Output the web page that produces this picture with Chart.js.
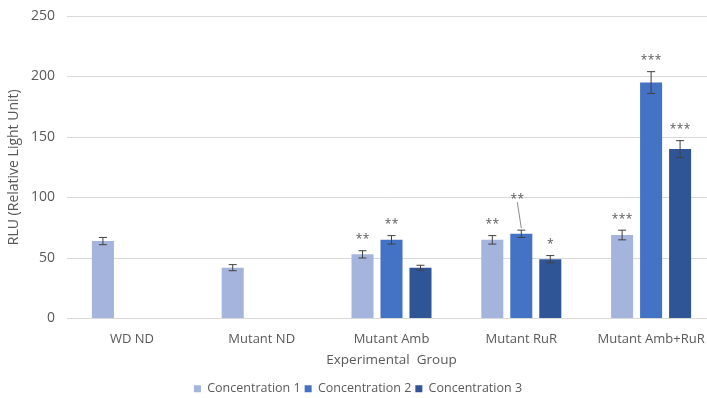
<!DOCTYPE html>
<html>
<head>
<meta charset="utf-8">
<script src="https://cdn.jsdelivr.net/npm/chart.js@4.4.1/dist/chart.umd.min.js"></script>
<style>
  html, body { margin: 0; padding: 0; background: #fff; overflow: hidden; }
  #wrap { width: 716px; height: 398px; position: relative; }
</style>
</head>
<body>
<div id="wrap"><canvas id="rlu"></canvas></div>
<script>
// RLU per experimental group, three concentrations
const groups = ['WD ND', 'Mutant ND', 'Mutant Amb', 'Mutant RuR', 'Mutant Amb+RuR'];
const conc1 = [64, 42, 53, 65, 69];
const conc2 = [null, null, 65, 70, 195];
const conc3 = [null, null, 42, 49, 140];

// standard error for each bar
const err1 = [3, 2.5, 3, 3.5, 4];
const err2 = [null, null, 3.5, 3, 9];
const err3 = [null, null, 2, 3, 7];

// significance marks
const sig1 = ['', '', '**', '**', '***'];
const sig2 = ['', '', '**', '**', '***'];
const sig3 = ['', '', '', '*', '***'];

const yTicks = [0, 50, 100, 150, 200, 250];

const kolorai = ['#a5b4dc', '#4472c4', '#2f5597'];
const tekstas = '#595959';
const FONT = "'Open Sans', 'Liberation Sans', sans-serif";

// error bars + stars drawn on top of the bars
const errorBars = {
  id: 'errorBars',
  afterDatasetsDraw(chart, args, opts) {
    const ctx = chart.ctx;
    const y = chart.scales.y;
    chart.data.datasets.forEach((ds, di) => {
      const meta = chart.getDatasetMeta(di);
      meta.data.forEach((bar, i) => {
        const v = ds.data[i];
        const e = ds.errors[i];
        if (v == null || e == null) return;
        const x = bar.x;
        const top = y.getPixelForValue(v + e);
        const bot = y.getPixelForValue(v - e);
        ctx.save();
        ctx.strokeStyle = '#404040';
        ctx.lineWidth = 1;
        ctx.beginPath();
        ctx.moveTo(x, top); ctx.lineTo(x, bot);
        ctx.moveTo(x - 4, top); ctx.lineTo(x + 4, top);
        ctx.moveTo(x - 4, bot); ctx.lineTo(x + 4, bot);
        ctx.stroke();

        const s = ds.stars[i];
        if (s) {
          const c = opts.callout;
          const lift = (c && c.dataset === di && c.index === i) ? c.lift : 0;
          const sy = top - 14 - lift;
          const sx = lift ? x - 4 : x;
          if (lift) {
            ctx.strokeStyle = '#8c8c8c';
            ctx.beginPath();
            ctx.moveTo(sx, sy + 6);
            ctx.lineTo(x, top - 2);
            ctx.stroke();
          }
          ctx.fillStyle = tekstas;
          ctx.font = '12px ' + FONT;
          ctx.textAlign = 'center';
          ctx.textBaseline = 'middle';
          const gap = 7;
          const n = s.length;
          for (let k = 0; k < n; k++) {
            ctx.fillText('*', sx + (k - (n - 1) / 2) * gap, sy + 3);
          }
        }
        ctx.restore();
      });
    });
  }
};

new Chart(document.getElementById('rlu'), {
  type: 'bar',
  data: {
    labels: groups,
    datasets: [
      { label: 'Concentration 1', data: conc1, errors: err1, stars: sig1, backgroundColor: kolorai[0] },
      { label: 'Concentration 2', data: conc2, errors: err2, stars: sig2, backgroundColor: kolorai[1] },
      { label: 'Concentration 3', data: conc3, errors: err3, stars: sig3, backgroundColor: kolorai[2] }
    ]
  },
  options: {
    responsive: true,
    maintainAspectRatio: false,
    animation: false,
    categoryPercentage: 0.67,
    barPercentage: 0.76,
    layout: { padding: { top: 16, right: 0, bottom: -7, left: 0 } },
    plugins: {
      tooltip: { enabled: false },
      errorBars: { callout: { dataset: 1, index: 3, lift: 20 } },
      legend: {
        position: 'bottom',
        labels: {
          boxWidth: 7,
          boxHeight: 7,
          padding: 4,
          color: tekstas,
          font: { family: FONT, size: 12.5 }
        }
      }
    },
    scales: {
      x: {
        grid: { display: false },
        border: { display: true, color: '#d9d9d9' },
        ticks: { color: tekstas, padding: 5, font: { family: FONT, size: 13 } },
        title: {
          display: true,
          text: 'Experimental  Group',
          color: tekstas,
          padding: { top: 4, bottom: 10 },
          font: { family: FONT, size: 13.5 }
        },
        afterFit(scale) { scale.height = 60; }
      },
      y: {
        min: 0,
        max: 250,
        afterBuildTicks(scale) { scale.ticks = yTicks.map(v => ({ value: v })); },
        grid: { color: '#d9d9d9', drawTicks: false },
        border: { display: false },
        ticks: { color: tekstas, padding: 12, font: { family: FONT, size: 14 } },
        title: {
          display: true,
          text: 'RLU (Relative Light Unit)',
          color: tekstas,
          padding: { top: 6, bottom: 0 },
          font: { family: FONT, size: 14 }
        },
        afterFit(scale) {
          scale.width = 67;
          scale.paddingTop = 0;
          scale.paddingBottom = 0;
        }
      }
    }
  },
  plugins: [errorBars]
});
</script>
</body>
</html>
